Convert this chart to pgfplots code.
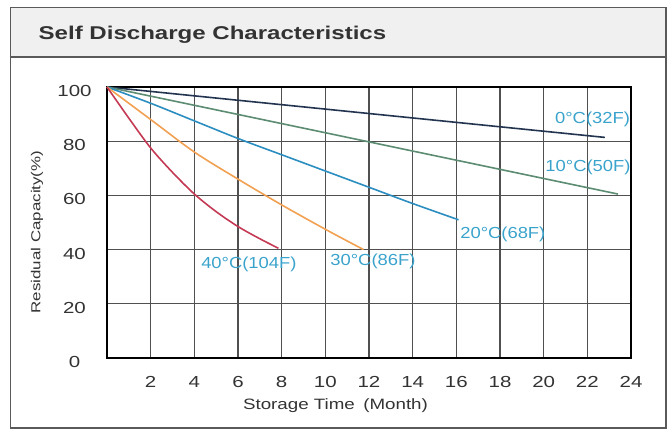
\documentclass[border=0pt]{standalone}
\usepackage{fontspec}
\setmainfont{Liberation Sans}
\usepackage{graphicx}
\usepackage{pgfplots}
\pgfplotsset{compat=1.18}
\definecolor{hdr}{HTML}{EFF0EF}
\definecolor{framec}{HTML}{5A5A5A}
\definecolor{titlec}{HTML}{333333}
\definecolor{gridc}{HTML}{505050}
\definecolor{labc}{HTML}{3AA3CC}
\definecolor{textc}{HTML}{333333}
\definecolor{c0}{HTML}{22344F}
\definecolor{c10}{HTML}{5C8C72}
\definecolor{c20}{HTML}{2B8DC0}
\definecolor{c30}{HTML}{F2A052}
\definecolor{c40}{HTML}{C43A55}
\newcommand{\lab}[1]{\fontsize{16bp}{16bp}\selectfont\scalebox{1.15}[1]{#1}}
\begin{document}
\begin{tikzpicture}
\useasboundingbox (0bp,0bp) rectangle (669bp,429bp);
\fill[hdr] (10.5bp,421.5bp) rectangle (666bp,372bp);
\draw[framec, line width=1.5bp] (10.5bp,421.5bp) rectangle (666bp,1bp);
\draw[framec, line width=1.5bp] (10.5bp,372bp) -- (666bp,372bp);
\node[anchor=base west, text=titlec, inner sep=0pt] at (38.5bp,389.7bp)
  {\fontsize{18.5bp}{20bp}\selectfont\bfseries\scalebox{1.3}[1]{Self Discharge Characteristics}};
\node[text=textc, inner sep=0pt] at (335.5bp,23bp)
  {\fontsize{15bp}{15bp}\selectfont\scalebox{1.25}[1]{Storage Time\hspace{0.45em}(Month)}};
\node[text=textc, inner sep=0pt, rotate=90] at (37bp,197bp)
  {\fontsize{13bp}{13bp}\selectfont\scalebox{1.3}[1]{Residual Capacity(\%)}};
\begin{axis}[
  at={(107bp,71bp)}, anchor=south west,
  scale only axis, width=524bp, height=271bp,
  xmin=0, xmax=24, ymin=0, ymax=100,
  xtick={2,4,...,24}, ytick={0,20,...,100},
  grid=major,
  major grid style={gridc, line width=1.3bp},
  axis line style={black, line width=1.6bp},
  major tick length=0pt,
  /pgf/number format/assume math mode=true,
  tick label style={font=\fontsize{16bp}{16bp}\selectfont, text=textc},
  xticklabel={\scalebox{1.28}[1]{\pgfmathprintnumber{\tick}}},
  yticklabel={\scalebox{1.28}[1]{\pgfmathprintnumber{\tick}}},
  xticklabel style={anchor=center, yshift=-23.7bp},
  yticklabel style={anchor=center, xshift=-32.5bp, yshift=-4bp},
  every axis plot/.append style={line width=1.6bp},
  clip=false,
]
\addplot[c0] coordinates {(0,100) (22.8,81.4)};
\addplot[c10] coordinates {(0,100) (23.4,60.5)};
\addplot[c20, smooth] coordinates {(0,100) (2,94) (4,87.5) (6,81) (8,75) (10,69) (12,63) (14,57) (16.1,51)};
\addplot[c30, smooth] coordinates {(0,100) (2,88) (4,76) (6,66) (8,56.5) (10,47.5) (11.75,40)};
\addplot[c40, smooth] coordinates {(0,100) (1,88.5) (2,77.5) (3,68.5) (4,60.5) (5,54) (6,48.5) (7,44) (7.85,40.5)};
\node[text=labc, inner sep=0pt] at (axis cs:22.24,88.1) {\lab{0°C(32F)}};
\node[text=labc, inner sep=0pt] at (axis cs:22.03,70.4) {\lab{10°C(50F)}};
\node[text=labc, inner sep=0pt] at (axis cs:18.13,45.8) {\lab{20°C(68F)}};
\node[text=labc, inner sep=0pt] at (axis cs:6.5,34.7) {\lab{40°C(104F)}};
\node[text=labc, inner sep=0pt] at (axis cs:12.18,35.7) {\lab{30°C(86F)}};
\end{axis}
\end{tikzpicture}
\end{document}
